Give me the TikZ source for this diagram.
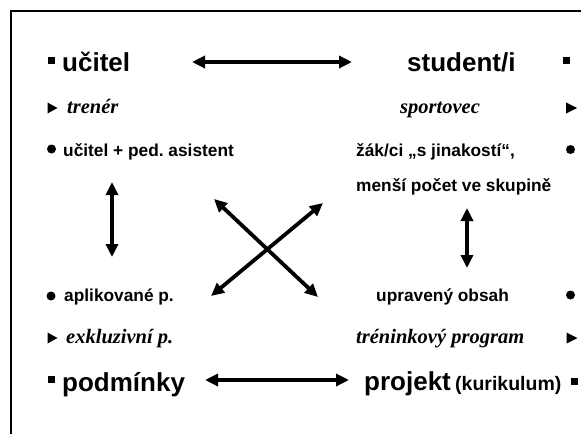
\documentclass[tikz,border=0pt]{standalone}
\usepackage{fontspec}
\setmainfont{Liberation Sans}
\newfontfamily\timesf{Liberation Serif}
\usetikzlibrary{arrows.meta}
\frenchspacing
\begin{document}
\begin{tikzpicture}[x=1pt,y=-1pt,
  big/.style={anchor=base west,inner sep=0pt,font=\fontsize{26}{30}\selectfont\bfseries},
  mid/.style={anchor=base west,inner sep=0pt,font=\fontsize{17.3}{20}\selectfont\bfseries},
  small/.style={anchor=base west,inner sep=0pt,font=\fontsize{19.5}{22}\selectfont\bfseries},
  ital/.style={anchor=base west,inner sep=0pt,font=\fontsize{20.5}{24}\selectfont\timesf\bfseries\itshape},
  sq/.style={fill=black,rectangle,inner sep=0pt,minimum size=7pt},
  dot/.style={fill=black,circle,inner sep=0pt,minimum size=9pt},
  link/.style={line width=3.8pt,{Triangle[length=13pt,width=12pt]}-{Triangle[length=13pt,width=12pt]}},
  frame/.style={line width=2pt}]
\useasboundingbox (0,0) rectangle (581,434);
% frame
\draw[frame] (11,434) -- (11,10.5) -- (581,10.5);
% bullets left
\node[sq] (b1) at (51,60.5) {};
\fill (47.5,102.5) -- (57.5,108) -- (47.5,113.5) -- cycle;
\node[dot] (b3) at (51.5,149) {};
\node[dot] (b4) at (51,296) {};
\fill (47.5,332.5) -- (57.5,338) -- (47.5,343.5) -- cycle;
\node[sq] (b6) at (51,379) {};
% bullets right
\node[sq] (r1) at (566,60.5) {};
\fill (566,102.5) -- (577,108) -- (566,113.5) -- cycle;
\node[dot] (r3) at (570.5,149.5) {};
\node[dot] (r4) at (570.5,295) {};
\fill (566.5,332.5) -- (577.5,338) -- (566.5,343.5) -- cycle;
\node[sq] (r6) at (574,381.5) {};
% texts
\node[big] (ucitel) at (62,71) {učitel};
\node[big] (student) at (407,71) {student/i};
\node[ital] (trener) at (67,113) {trenér};
\node[ital] (sportovec) at (400,113) {sportovec};
\node[mid] (asist) at (63,156) {učitel + ped. asistent};
\node[mid] (zak) at (356,156) {žák/ci „s jinakostí“,};
\node[mid] (mensi) at (356,191) {menší počet ve skupině};
\node[mid] (aplik) at (64,301) {aplikované p.};
\node[mid] (upr) at (376,301) {upravený obsah};
\node[ital] (exkl) at (66,343) {exkluzivní p.};
\node[ital] (tren) at (356,343) {tréninkový program};
\node[big] (podm) at (62,391) {podmínky};
\node[big] (proj) at (364,390) {projekt};
\node[small] (kur) at (455,390) {(kurikulum)};
% arrow end points
\coordinate (t1) at (192,62);   \coordinate (t2) at (352,62);
\coordinate (l1) at (112,182);  \coordinate (l2) at (112,257);
\coordinate (v1) at (467,208);  \coordinate (v2) at (467,268);
\coordinate (x1) at (214,199);  \coordinate (x2) at (318,297);
\coordinate (y1) at (323,203);  \coordinate (y2) at (211,296);
\coordinate (d1) at (205,380);  \coordinate (d2) at (349,380);
\draw[link] (t1) -- (t2);
\draw[link] (l1) -- (l2);
\draw[link] (v1) -- (v2);
\draw[link] (x1) -- (x2);
\draw[link] (y1) -- (y2);
\draw[link] (d1) -- (d2);
\end{tikzpicture}
\end{document}
